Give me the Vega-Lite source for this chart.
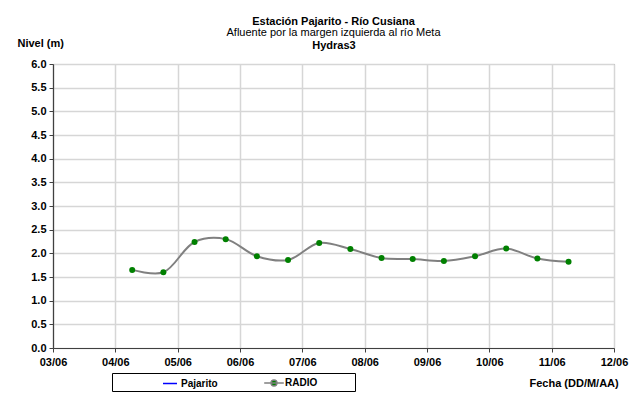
{
  "$schema": "https://vega.github.io/schema/vega-lite/v6.json",
  "width": 561,
  "height": 284,
  "autosize": {"type": "none"},
  "padding": {"left": 53, "top": 64, "right": 18, "bottom": 46},
  "background": "white",
  "title": {
    "text": "Estación Pajarito - Río Cusiana",
    "subtitle": "Afluente por la margen izquierda al río Meta",
    "anchor": "middle",
    "frame": "group",
    "offset": -1,
    "subtitlePadding": 0,
    "fontSize": 11,
    "fontWeight": "bold",
    "subtitleFontSize": 11,
    "subtitleFontWeight": "normal",
    "color": "black",
    "subtitleColor": "black"
  },
  "data": {
    "values": [
      {"fecha": "2010-06-04T06:30", "serie": "RADIO", "nivel": 1.65},
      {"fecha": "2010-06-04T18:30", "serie": "RADIO", "nivel": 1.60},
      {"fecha": "2010-06-05T06:30", "serie": "RADIO", "nivel": 2.24},
      {"fecha": "2010-06-05T18:30", "serie": "RADIO", "nivel": 2.30},
      {"fecha": "2010-06-06T06:30", "serie": "RADIO", "nivel": 1.94},
      {"fecha": "2010-06-06T18:30", "serie": "RADIO", "nivel": 1.86},
      {"fecha": "2010-06-07T06:30", "serie": "RADIO", "nivel": 2.22},
      {"fecha": "2010-06-07T18:30", "serie": "RADIO", "nivel": 2.09},
      {"fecha": "2010-06-08T06:30", "serie": "RADIO", "nivel": 1.90},
      {"fecha": "2010-06-08T18:30", "serie": "RADIO", "nivel": 1.88},
      {"fecha": "2010-06-09T06:30", "serie": "RADIO", "nivel": 1.84},
      {"fecha": "2010-06-09T18:30", "serie": "RADIO", "nivel": 1.94},
      {"fecha": "2010-06-10T06:30", "serie": "RADIO", "nivel": 2.10},
      {"fecha": "2010-06-10T18:30", "serie": "RADIO", "nivel": 1.89},
      {"fecha": "2010-06-11T06:30", "serie": "RADIO", "nivel": 1.82}
    ]
  },
  "encoding": {
    "y": {
      "field": "nivel",
      "type": "quantitative",
      "scale": {"domain": [0, 6]},
      "axis": {
        "values": [0, 0.5, 1, 1.5, 2, 2.5, 3, 3.5, 4, 4.5, 5, 5.5, 6],
        "format": ".1f",
        "labelOverlap": false,
        "title": "Nivel (m)",
        "titleAngle": 0,
        "titleAlign": "left",
        "titleBaseline": "middle",
        "titleAnchor": null,
        "titleX": -36,
        "titleY": -21
      }
    }
  },
  "layer": [
    {
      "mark": {"type": "line", "interpolate": "catmull-rom", "strokeWidth": 2},
      "encoding": {
        "x": {
          "field": "fecha",
          "type": "temporal",
          "scale": {"domain": [{"year": 2010, "month": 6, "date": 3}, {"year": 2010, "month": 6, "date": 12}]},
          "axis": {
            "format": "%d/%m",
            "tickCount": {"interval": "day", "step": 1},
            "title": "Fecha (DD/M/AA)",
            "titleAlign": "left",
            "titleBaseline": "middle",
            "titleAnchor": null,
            "titleX": 476,
            "titleY": 35
          }
        },
        "color": {
          "field": "serie",
          "type": "nominal",
          "scale": {"domain": ["Pajarito", "RADIO"], "range": ["#0000ff", "#808080"]},
          "legend": {
            "orient": "none",
            "legendX": 59,
            "legendY": 309,
            "direction": "horizontal",
            "title": "\u00a0",
            "titleOrient": "right",
            "titlePadding": 36
          }
        }
      }
    },
    {
      "mark": {"type": "point", "filled": true, "size": 36, "opacity": 1, "color": "#008000"},
      "encoding": {
        "x": {
          "field": "fecha",
          "type": "temporal",
          "axis": {
            "orient": "top",
            "title": "Hydras3",
            "labels": false,
            "ticks": false,
            "domain": false,
            "grid": false,
            "titlePadding": 14
          }
        }
      }
    },
    {
      "transform": [{"filter": "datum.nivel < 0"}],
      "mark": {"type": "point", "filled": false, "fill": "#008000", "opacity": 1, "strokeWidth": 2},
      "encoding": {
        "color": {
          "field": "serie",
          "type": "nominal",
          "legend": {
            "orient": "none",
            "legendX": 59,
            "legendY": 309,
            "direction": "horizontal",
            "title": "\u00a0",
            "titleOrient": "right",
            "titlePadding": 36
          }
        },
        "shape": {
          "field": "serie",
          "type": "nominal",
          "scale": {"domain": ["Pajarito", "RADIO"], "range": ["M-1,0H1", "M-1.4,0H1.4M-0.42,0A0.42,0.42 0 1,1 0.42,0A0.42,0.42 0 1,1 -0.42,0Z"]},
          "legend": {
            "orient": "none",
            "legendX": 59,
            "legendY": 309,
            "direction": "horizontal",
            "title": "\u00a0",
            "titleOrient": "right",
            "titlePadding": 36
          }
        }
      }
    }
  ],
  "resolve": {"axis": {"x": "independent"}},
  "config": {
    "font": "Liberation Sans",
    "view": {"stroke": "#808080", "strokeWidth": 1},
    "axis": {
      "labelFontSize": 11,
      "labelFontWeight": "bold",
      "labelColor": "black",
      "titleFontSize": 11,
      "titleFontWeight": "bold",
      "titleColor": "black",
      "domainColor": "#404040",
      "domainWidth": 1.2,
      "tickColor": "#404040",
      "tickSize": 4,
      "tickWidth": 1,
      "gridColor": "#d6d6d6",
      "gridWidth": 1.5,
      "labelPadding": 3
    },
    "axisX": {"labelPadding": 4, "labelFlush": false},
    "legend": {
      "strokeColor": "black",
      "fillColor": "white",
      "padding": 2,
      "symbolSize": 196,
      "symbolStrokeWidth": 1.5,
      "symbolFillColor": "#008000",
      "symbolOffset": 48,
      "columnPadding": -33,
      "labelFontSize": 10,
      "labelFontWeight": "bold",
      "labelColor": "black",
      "labelOffset": 3,
      "titleFontSize": 10
    }
  }
}
